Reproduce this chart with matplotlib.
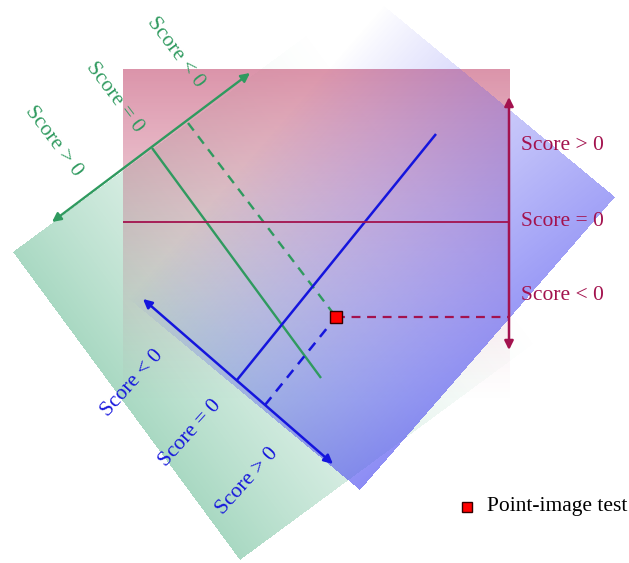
import numpy as np
import matplotlib
matplotlib.use('Agg')
import matplotlib.pyplot as plt

W, H = 629, 563

# ---- shaded score regions (pixel frame of the diagram) ----
red_x = [123, 510]
red_y = [69, 405]
red_rgb = (190, 60, 100)
blue_top = (383, 5)
blue_right = (615, 197)
blue_left = (128, 298)
blue_rgb = (85, 85, 240)
green_left = (13, 252)
green_bottom = (240, 560)
green_depth = 380
green_rgb = (120, 195, 160)

# ---- lines ----
green_arrow = [(52, 222), (250, 73)]
green_solid = [(152, 148), (321, 378)]
green_dash = [(188, 123), (336, 317)]
blue_arrow = [(143, 299), (333, 464)]
blue_solid = [(237, 380), (436, 134)]
blue_dash = [(265, 405), (336, 317)]
red_hline = [(123, 222), (508, 222)]
red_arrow = [(509, 350), (509, 97)]
red_dash = [(336, 317), (509, 317)]
test_point = (336, 317)

green_labels = ["Score < 0", "Score = 0", "Score > 0"]
green_label_pos = [(176, 52), (115, 97), (54, 141)]
blue_labels = ["Score < 0", "Score = 0", "Score > 0"]
blue_label_pos = [(132, 383), (190, 433), (247, 481)]
red_labels = ["Score > 0", "Score = 0", "Score < 0"]
red_label_pos = [(521, 145), (521, 222), (521, 295)]
legend_label = "Point-image test"

GREEN = '#2f9a5f'
BLUE = '#1515dd'
MAROON = '#a3124e'

plt.rcParams['font.family'] = ['Liberation Serif', 'DejaVu Serif']

fig = plt.figure(figsize=(W / 100, H / 100), dpi=100)
ax = fig.add_axes([0, 0, 1, 1])
ax.set_xlim(0, W)
ax.set_ylim(H, 0)
ax.axis('off')

yy, xx = np.mgrid[0:H, 0:W] + 0.5


def draw_layer(rgb, alpha, z):
    img = np.zeros((H, W, 4))
    img[..., 0] = rgb[0] / 255
    img[..., 1] = rgb[1] / 255
    img[..., 2] = rgb[2] / 255
    img[..., 3] = np.clip(alpha, 0, 1)
    ax.imshow(img, extent=(0, W, H, 0), interpolation='bilinear', zorder=z, aspect='auto')


def rect_coords(origin, u, w):
    px = xx - origin[0]
    py = yy - origin[1]
    det = u[0] * w[1] - u[1] * w[0]
    a = (px * w[1] - py * w[0]) / det
    b = (u[0] * py - u[1] * px) / det
    inside = (a >= 0) & (a <= 1) & (b >= 0) & (b <= 1)
    return a, b, inside


# green region
gu = np.array(green_bottom) - np.array(green_left)
gdir = np.array([gu[1], -gu[0]]) / np.hypot(*gu)
gw = gdir * green_depth
a, b, inside = rect_coords(green_left, gu, gw)
g_alpha = 0.64 * np.clip(1 - b, 0, 1) ** 1.6 * inside
draw_layer(green_rgb, g_alpha, 1)

# red region
r_in = (xx >= red_x[0]) & (xx <= red_x[1]) & (yy >= red_y[0]) & (yy <= red_y[1])
r_alpha = 0.55 * np.clip(1 - (yy - red_y[0]) / (red_y[1] - red_y[0]), 0, 1) ** 1.3 * r_in
draw_layer(red_rgb, r_alpha, 2)

# blue region
bu = np.array(blue_right) - np.array(blue_top)
bw = np.array(blue_left) - np.array(blue_top)
a, b, inside = rect_coords(blue_top, bu, bw)
b_alpha = 0.68 * np.clip(a, 0, 1) ** 0.9 * (0.8 + 0.2 * b) * inside
draw_layer(blue_rgb, b_alpha, 3)


def seg(p, color, lw, ls='-', z=5):
    ax.plot([p[0][0], p[1][0]], [p[0][1], p[1][1]], color=color, lw=lw, ls=ls,
            zorder=z, solid_capstyle='butt', dashes=(4, 3) if ls == '--' else (None, None))


def dbl_arrow(p, color, lw):
    ax.annotate('', xy=p[1], xytext=p[0],
                arrowprops=dict(arrowstyle='<|-|>', color=color, lw=lw,
                                mutation_scale=13, shrinkA=0, shrinkB=0),
                zorder=6)


seg(green_solid, GREEN, 1.7)
seg(green_dash, GREEN, 1.7, '--')
dbl_arrow(green_arrow, GREEN, 1.7)

seg(blue_solid, BLUE, 1.8)
seg(blue_dash, BLUE, 1.8, '--')
dbl_arrow(blue_arrow, BLUE, 1.8)

seg(red_hline, MAROON, 1.3)
seg(red_dash, MAROON, 1.6, '--')
dbl_arrow(red_arrow, MAROON, 1.8)

ax.plot([test_point[0]], [test_point[1]], marker='s', ms=8, mfc='#ff0000', mec='#330000',
        mew=1, zorder=8, ls='none')

for t, p in zip(green_labels, green_label_pos):
    ax.text(p[0], p[1], t, color=GREEN, fontsize=15.5, rotation=-53,
            ha='center', va='center', rotation_mode='anchor', zorder=9)
for t, p in zip(blue_labels, blue_label_pos):
    ax.text(p[0], p[1], t, color=BLUE, fontsize=15.5, rotation=48,
            ha='center', va='center', rotation_mode='anchor', zorder=9)
for t, p in zip(red_labels, red_label_pos):
    ax.text(p[0], p[1], t, color=MAROON, fontsize=15.5,
            ha='left', va='center', zorder=9)

ax.plot([467], [507], marker='s', ms=7, mfc='#ff0000', mec='#330000', mew=1, ls='none', zorder=9)
ax.text(487, 506, legend_label, color='black', fontsize=15.5, ha='left', va='center', zorder=9)

fig.savefig('out.png', dpi=100)
